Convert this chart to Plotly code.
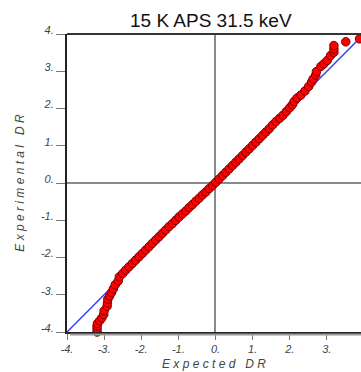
import plotly.graph_objects as go

# Normal probability plot of DR values: expected vs experimental quantiles
expected = [
    -3.19, -3.19, -3.19, -3.18, -3.12, -3.06, -3.01, -3.00, -2.92, -2.91, -2.90,
    -2.85, -2.80, -2.75, -2.70, -2.62, -2.59, -2.50, -2.42,
    -2.33, -2.24, -2.15, -2.06, -1.97, -1.88, -1.79, -1.70, -1.61, -1.52, -1.43,
    -1.34, -1.25, -1.16, -1.07, -0.98, -0.89, -0.80, -0.71, -0.62, -0.53, -0.44,
    -0.35, -0.26, -0.17, -0.08, 0.01, 0.10, 0.19, 0.28, 0.37, 0.46, 0.55, 0.64,
    0.73, 0.82, 0.91, 1.00, 1.09, 1.18, 1.27, 1.36, 1.45, 1.54, 1.63,
    1.73, 1.82, 1.91, 2.00, 2.07, 2.12, 2.20, 2.30, 2.41, 2.51, 2.59, 2.63, 2.70,
    2.72, 2.84, 2.92, 3.01, 3.10, 3.19, 3.19, 3.19, 3.51, 3.88,
]
experimental = [
    -4.00, -3.92, -3.84, -3.77, -3.70, -3.62, -3.53, -3.43, -3.31, -3.22, -3.12,
    -3.03, -2.94, -2.84, -2.73, -2.63, -2.52, -2.43, -2.34,
    -2.25, -2.16, -2.07, -1.98, -1.89, -1.80, -1.71, -1.62, -1.53, -1.44, -1.35,
    -1.26, -1.17, -1.09, -1.00, -0.91, -0.83, -0.75, -0.66, -0.58, -0.49, -0.41,
    -0.32, -0.24, -0.15, -0.07, 0.02, 0.11, 0.20, 0.29, 0.38, 0.47, 0.56, 0.65,
    0.74, 0.83, 0.92, 1.01, 1.10, 1.19, 1.28, 1.37, 1.46, 1.56, 1.65,
    1.74, 1.82, 1.92, 2.02, 2.10, 2.19, 2.28, 2.36, 2.47, 2.59, 2.71, 2.79, 2.90,
    2.99, 3.13, 3.20, 3.29, 3.42, 3.51, 3.60, 3.69, 3.79, 3.87,
]

# Reference line y = x
ref_x = [-4, 4]
ref_y = [-4, 4]

tick_vals = [-4, -3, -2, -1, 0, 1, 2, 3]
tick_text = ["-4.", "-3.", "-2.", "-1.", "0.", "1.", "2.", "3."]
ytick_vals = [-4, -3, -2, -1, 0, 1, 2, 3, 4]
ytick_text = ["-4.", "-3.", "-2.", "-1.", "0.", "1.", "2.", "3.", "4."]

FONT = "Liberation Sans, Arial, sans-serif"
tickfont = dict(family=FONT, size=11, color="#444444", style="italic")
titlefont = dict(family=FONT, size=12, color="#444444", style="italic")

fig = go.Figure()
fig.add_trace(go.Scatter(
    x=ref_x, y=ref_y, mode="lines",
    line=dict(color="#2b3cff", width=1.4), hoverinfo="skip",
))
fig.add_trace(go.Scatter(
    x=expected, y=experimental, mode="markers", cliponaxis=False,
    marker=dict(size=8.5, color="#ff0000", line=dict(color="#7a0000", width=1)),
))

axis_common = dict(
    showgrid=False,
    zeroline=True, zerolinecolor="#8a8a8a", zerolinewidth=1.5,
    showline=True, linecolor="#222222", linewidth=2,
    ticks="outside", tickcolor="#777777", tickwidth=1,
    tickfont=tickfont,
)

fig.update_layout(
    width=361, height=372,
    margin=dict(l=67, r=0, t=34, b=40),
    paper_bgcolor="white", plot_bgcolor="white",
    showlegend=False,
    title=dict(
        text="15 K APS 31.5 keV",
        font=dict(family=FONT, size=19, color="#111111"),
        x=0.584, xref="container", xanchor="center",
        y=0.946, yref="container", yanchor="middle",
    ),
    xaxis=dict(
        range=[-4, 3.92], tickvals=tick_vals, ticktext=tick_text, ticklen=6,
        title=dict(text="E x p e c t e d   D R", standoff=5, font=titlefont),
        **axis_common,
    ),
    yaxis=dict(
        range=[-4, 4], tickvals=ytick_vals, ticktext=ytick_text, ticklen=9,
        ticklabelstandoff=0, ticklabelshift=-4,
        title=dict(text="E x p e r i m e n t a l   D R", standoff=14, font=titlefont),
        **axis_common,
    ),
    shapes=[
        # top frame line
        dict(type="line", xref="paper", yref="paper", x0=0, x1=1, y0=1, y1=1,
             line=dict(color="#333333", width=2)),
        # shadow under the bottom axis
        dict(type="line", xref="paper", yref="paper", ysizemode="pixel", yanchor=0,
             x0=0.01, x1=1, y0=-2.5, y1=-2.5, line=dict(color="#9a9a9a", width=2)),
    ],
)

fig.write_html("out.html")
